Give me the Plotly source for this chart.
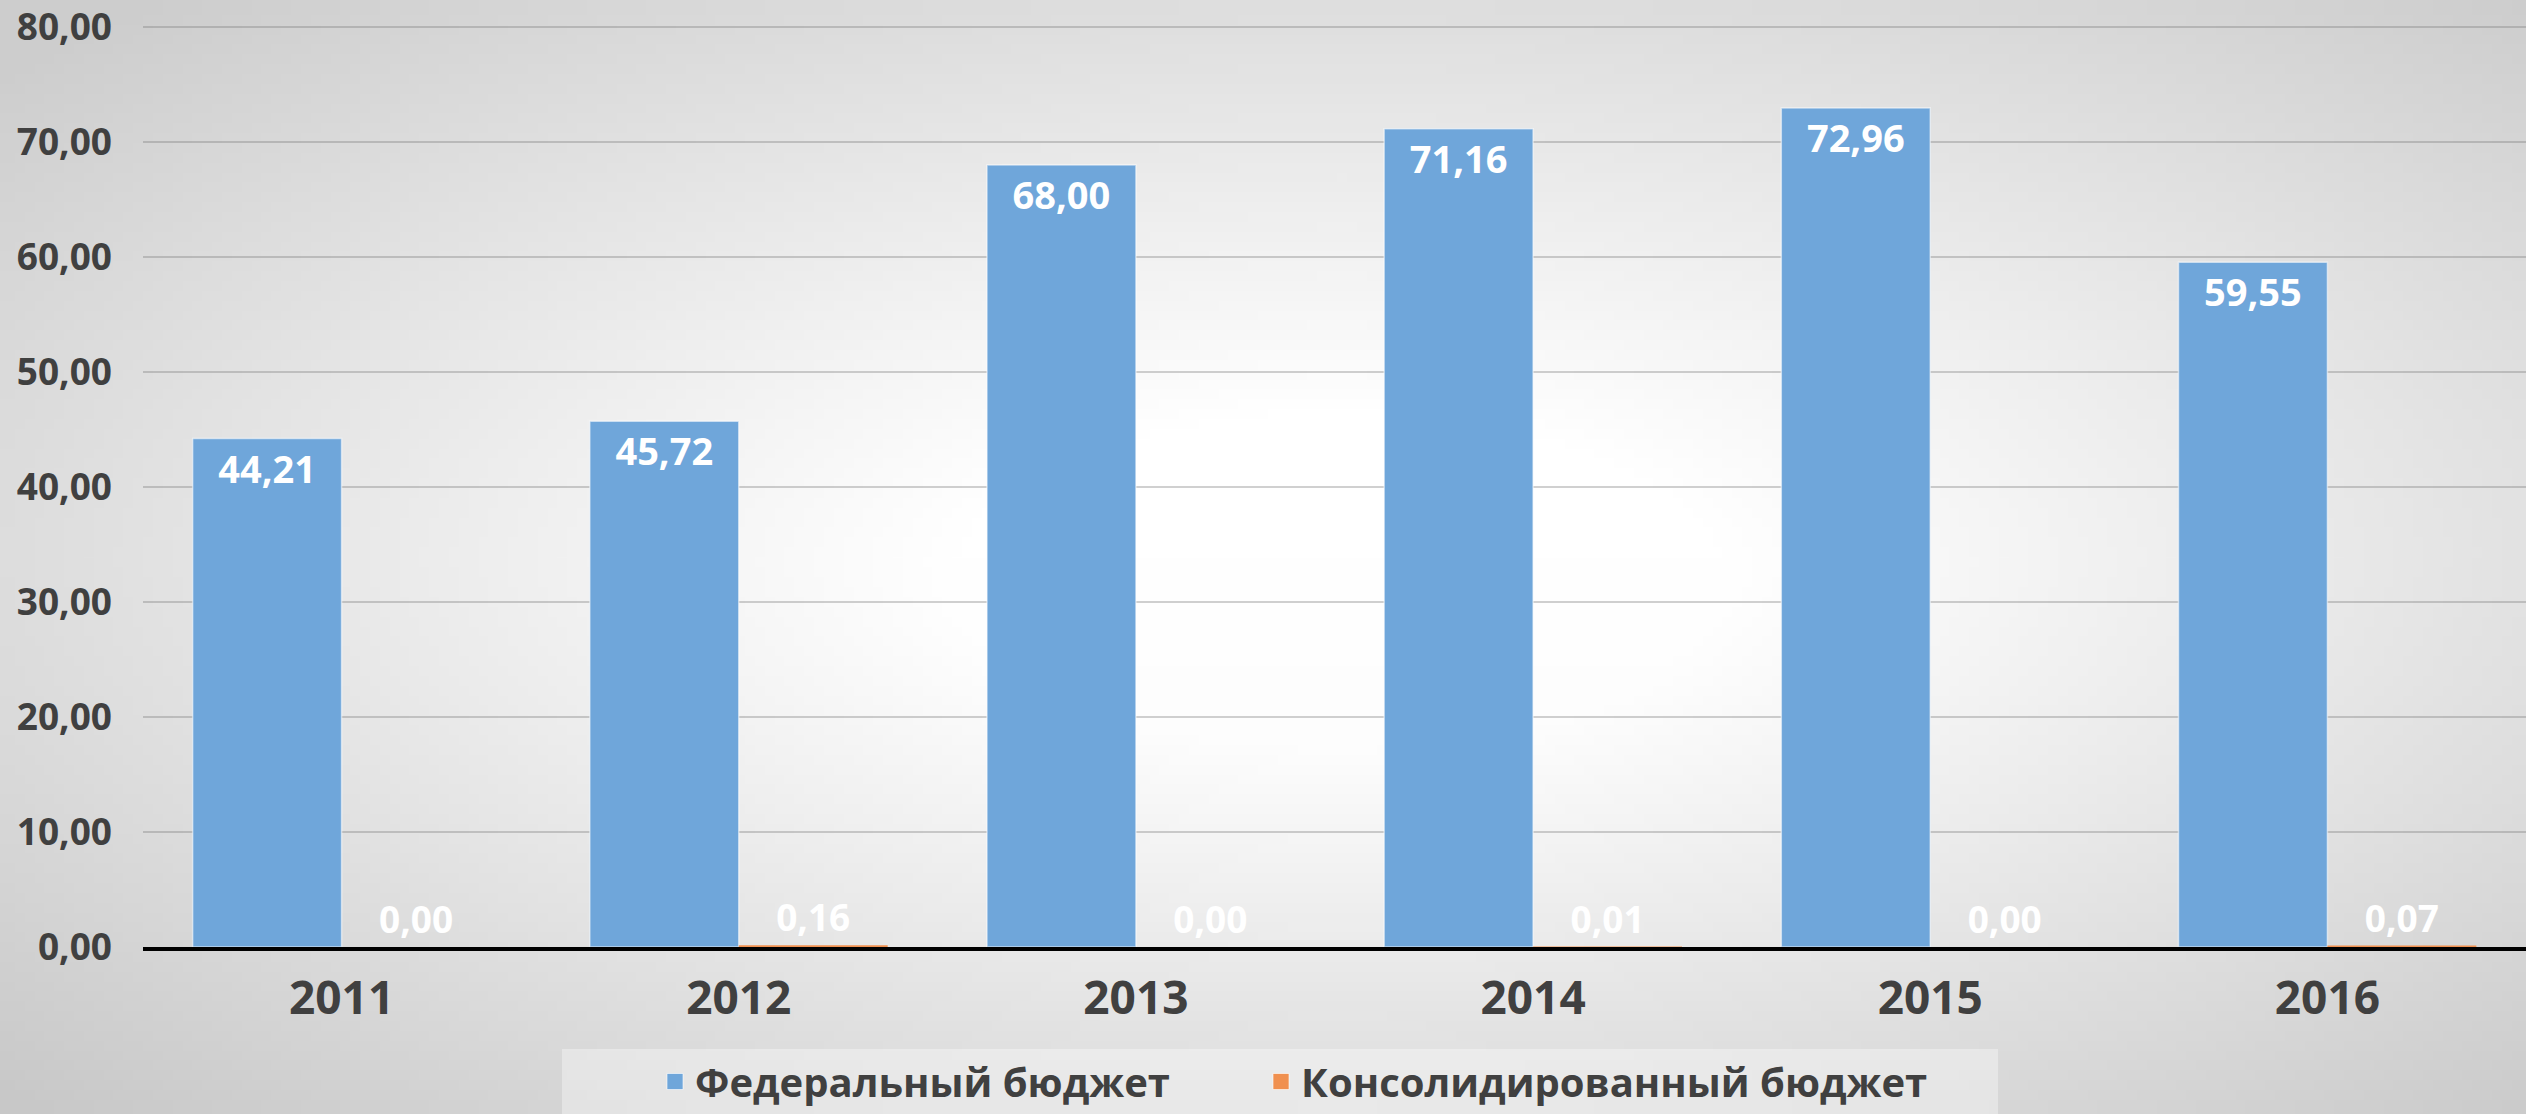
import base64
import struct
import zlib

import numpy as np
import plotly.graph_objects as go

# ---------------- data ----------------
years = ["2011", "2012", "2013", "2014", "2015", "2016"]
federal = [44.21, 45.72, 68.00, 71.16, 72.96, 59.55]
consolidated = [0.00, 0.16, 0.00, 0.01, 0.00, 0.07]
series_names = ["Федеральный бюджет", "Консолидированный бюджет"]
y_tick_values = [0, 10, 20, 30, 40, 50, 60, 70, 80]

# ---------------- styles ----------------
FIG_W, FIG_H = 2526, 1114
BLUE = "#6fa6da"
ORANGE = "#f0904f"
TEXT = "#404040"
FONT = "Open Sans"

Y_MAX = 80.3                       # small headroom so the 80 gridline/label is kept
PX_ZERO, PX_80 = 947, 27           # target pixel rows of 0 and 80
unit = (PX_ZERO - PX_80) / 80.0
px_top = PX_80 - (Y_MAX - 80) * unit


def gradient_png(w, h):
    xs = (np.arange(w) + 0.5) / w
    ys = (np.arange(h) + 0.5) / h
    X, Y = np.meshgrid(xs, ys)
    d = np.sqrt((X - 0.53) ** 2 + (Y - 0.52) ** 2) / np.sqrt(0.5)
    t = np.clip((d - 0.22) / 0.78, 0, 1)
    val = 255 - 50 * t - 10 * np.clip(Y - 0.5, 0, 1)
    img = np.clip(val, 0, 255).astype(np.uint8)
    raw = b"".join(b"\x00" + img[r].tobytes() for r in range(h))

    def chunk(tag, data):
        c = struct.pack(">I", len(data)) + tag + data
        return c + struct.pack(">I", zlib.crc32(tag + data) & 0xFFFFFFFF)

    png = b"\x89PNG\r\n\x1a\n"
    png += chunk(b"IHDR", struct.pack(">IIBBBBB", w, h, 8, 0, 0, 0, 0))
    png += chunk(b"IDAT", zlib.compress(raw, 9))
    png += chunk(b"IEND", b"")
    return "data:image/png;base64," + base64.b64encode(png).decode()


fig = go.Figure()

fig.add_trace(go.Bar(
    x=years, y=federal, name=series_names[0], showlegend=False,
    marker=dict(color=BLUE, line=dict(color="rgba(255,255,255,0.55)", width=1.5)),
    texttemplate="%{y:.2f}", textposition="inside", insidetextanchor="end",
    textangle=0, constraintext="none",
    textfont=dict(family=FONT, size=38, color="white", weight="bold"),
    hoverinfo="skip",
))
fig.add_trace(go.Bar(
    x=years, y=consolidated, name=series_names[1], showlegend=False,
    marker=dict(color=ORANGE, line=dict(width=0)),
    texttemplate="%{y:.2f}", textposition="outside", textangle=0,
    constraintext="none", cliponaxis=False,
    textfont=dict(family=FONT, size=37, color="white", weight="bold"),
    hoverinfo="skip",
))

# legend entries (one legend per entry so that each can be placed)
for name, color, leg in zip(series_names, [BLUE, ORANGE], ["legend", "legend2"]):
    fig.add_trace(go.Scatter(
        x=[None], y=[None], mode="markers", name=name, legend=leg,
        marker=dict(symbol="square", size=16, color=color,
                    line=dict(color="rgba(255,255,255,0.6)", width=1)),
        showlegend=True, hoverinfo="skip",
    ))

legend_common = dict(
    orientation="h", y=0.0, yanchor="bottom",
    xanchor="left", bgcolor="rgba(0,0,0,0)", borderwidth=0,
    font=dict(family=FONT, size=40, color=TEXT, weight="bold"),
    itemsizing="trace",
)

fig.update_layout(
    width=FIG_W, height=FIG_H, autosize=False,
    margin=dict(l=0, r=0, t=0, b=0, pad=0, autoexpand=False),
    paper_bgcolor="#dcdcdc",
    plot_bgcolor="rgba(0,0,0,0)",
    separators=", ",
    barmode="group", bargap=0.25, bargroupgap=0,
    font=dict(family=FONT, color=TEXT),
    images=[dict(source=gradient_png(256, 113), xref="paper", yref="paper",
                 x=0, y=1, sizex=1, sizey=1, xanchor="left", yanchor="top",
                 sizing="stretch", layer="below", opacity=1)],
    shapes=[dict(type="rect", xref="paper", yref="paper",
                 x0=562 / FIG_W, x1=1998 / FIG_W, y0=0, y1=(FIG_H - 1049) / FIG_H,
                 fillcolor="rgba(255,255,255,0.35)", line=dict(width=0),
                 layer="below")],
    legend=dict(x=655 / FIG_W, **legend_common),
    legend2=dict(x=1261 / FIG_W, **legend_common),
    xaxis=dict(
        domain=[143 / FIG_W, 1],
        showline=True, linecolor="black", linewidth=4,
        showgrid=False, ticks="",
        tickfont=dict(family=FONT, size=46, color=TEXT, weight="bold"),
        ticklabelstandoff=8,
        fixedrange=True,
    ),
    yaxis=dict(
        domain=[(FIG_H - PX_ZERO) / FIG_H, (FIG_H - px_top) / FIG_H],
        range=[0, Y_MAX], tickvals=y_tick_values, tickformat=".2f",
        showgrid=True, gridcolor="rgba(120,120,120,0.35)", gridwidth=1.5,
        zeroline=False, showline=False, ticks="",
        tickfont=dict(family=FONT, size=37, color=TEXT, weight="bold"),
        ticklabelstandoff=30, ticklabeloverflow="allow",
        fixedrange=True,
    ),
)

fig.write_html(
    "out.html", include_plotlyjs=True, full_html=True,
    config={"displayModeBar": False},
    post_script="document.body.style.margin='0';document.body.style.overflow='hidden';",
)
